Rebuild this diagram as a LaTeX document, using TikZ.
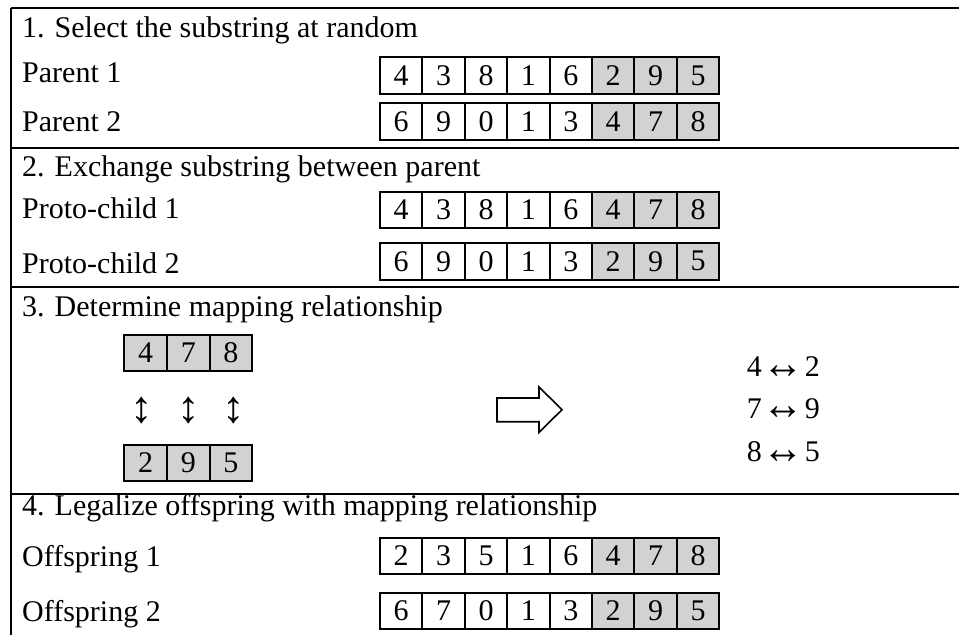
\documentclass[tikz,border=0pt]{standalone}
\usepackage{fontspec}
\usepackage{graphicx}
\setmainfont{Liberation Serif}
\usetikzlibrary{arrows.meta}
\tikzset{
  every node/.style={font=\fontsize{30}{36}\selectfont},
  cell/.style={draw, line width=2pt, minimum width=42.4pt, minimum height=36.5pt, inner sep=0pt, anchor=center},
  shaded/.style={cell, fill=gray!35},
  lbl/.style={anchor=base west, inner sep=0pt},
  rule/.style={line width=2.3pt},
  blockarrow/.style={draw, line width=1.6pt, line join=miter}
}
\newcommand\cellrow[4]{%
  \foreach \v [count=\i] in {#3} {\node[cell] (#1-\i) at ({380+42.4*(\i-0.5)},#2) {\v};}
  \foreach \v [count=\i from 6] in {#4} {\node[shaded] (#1-\i) at ({380+42.4*(\i-0.5)},#2) {\v};}
}
\newcommand\bigleftright{\makebox[28pt]{\smash{\raisebox{-1.4pt}{\scalebox{1.38}[1.5]{↔}}}}}
\newcommand\bigupdown{\scalebox{1.5}{↕}}
\begin{document}
\begin{tikzpicture}[x=1pt,y=-1pt]
\useasboundingbox (0,0) rectangle (959,635);
% frame and separators
\draw[rule] (11,8) -- (959,8);
\draw[rule] (11,148) -- (959,148);
\draw[rule] (11,287) -- (959,287);
\draw[rule] (11,494) -- (959,494);
\draw[rule] (11,8) -- (11,635);
% section 1
\node[lbl] (t1) at (22,37) {1. Select the substring at random};
\node[lbl] (lp1) at (22,82) {Parent 1};
\node[lbl] (lp2) at (22,131.7) {Parent 2};
\cellrow{p1}{75.7}{4,3,8,1,6}{2,9,5}
\cellrow{p2}{121.7}{6,9,0,1,3}{4,7,8}
% section 2
\node[lbl] (t2) at (22,176) {2. Exchange substring between parent};
\node[lbl] (lc1) at (22,218.3) {Proto-child 1};
\node[lbl] (lc2) at (22,273.3) {Proto-child 2};
\cellrow{c1}{210}{4,3,8,1,6}{4,7,8}
\cellrow{c2}{261.3}{6,9,0,1,3}{2,9,5}
% section 3
\node[lbl] (t3) at (22,316) {3. Determine mapping relationship};
\foreach \v [count=\i] in {4,7,8} {\node[shaded, minimum width=42.67pt] (ma-\i) at ({124.3+42.67*(\i-0.5)},353) {\v};}
\foreach \v [count=\i] in {2,9,5} {\node[shaded, minimum width=42.67pt] (mb-\i) at ({124.3+42.67*(\i-0.5)},463) {\v};}
\node[inner sep=0pt] (ud1) at (142,411) {\bigupdown};
\node[inner sep=0pt] (ud2) at (188.5,411) {\bigupdown};
\node[inner sep=0pt] (ud3) at (233.5,411) {\bigupdown};
\draw[blockarrow] (497,398) -- (539,398) -- (539,387) -- (562,409.7) -- (539,432.4) -- (539,421.7) -- (497,421.7) -- cycle;
\node[lbl] (m1) at (746.7,376.7) {4 \bigleftright{} 2};
\node[lbl] (m2) at (746.7,418.5) {7 \bigleftright{} 9};
\node[lbl] (m3) at (746.7,461.7) {8 \bigleftright{} 5};
% section 4
\node[lbl] (t4) at (22,515) {4. Legalize offspring with mapping relationship};
\node[lbl] (lo1) at (22,566.7) {Offspring 1};
\node[lbl] (lo2) at (22,621.7) {Offspring 2};
\cellrow{o1}{555.8}{2,3,5,1,6}{4,7,8}
\cellrow{o2}{611}{6,7,0,1,3}{2,9,5}
\end{tikzpicture}
\end{document}
